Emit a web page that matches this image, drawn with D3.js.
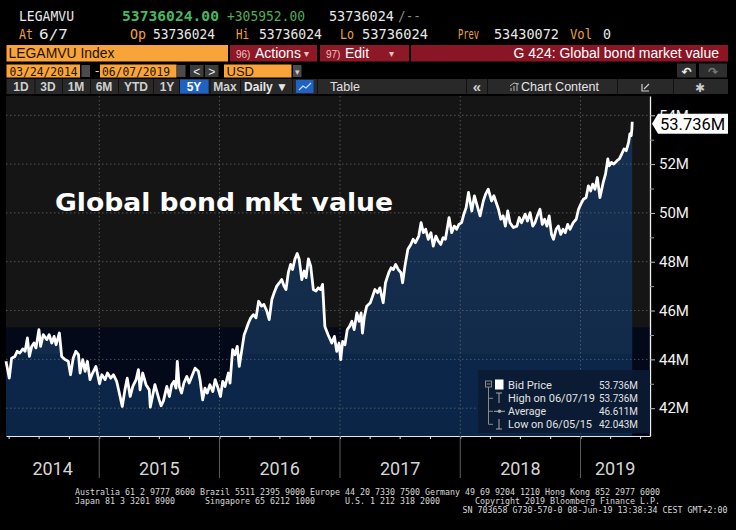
<!DOCTYPE html>
<html>
<head>
<meta charset="utf-8">
<script src="https://cdn.jsdelivr.net/npm/d3@7"></script>
<style>
body{margin:0;background:#000;overflow:hidden}
svg{display:block}
</style>
</head>
<body>
<div id="chart"></div>
<script>

// ======================= //
// DATA
// ======================= //

var quoteTop = ["LEGAMVU", "53736024.00", "+305952.00", "53736024", "/--"]
var quoteBottom = ["At", "6/7", "Op", "53736024", "Hi", "53736024", "Lo", "53736024", "Prev", "53430072", "Vol", "0"]
var securityName = "LEGAMVU Index"
var chartTitleBar = "G 424: Global bond market value"
var dateFrom = "03/24/2014", dateTo = "06/07/2019", currency = "USD"
var periodButtons = ["1D", "3D", "1M", "6M", "YTD", "1Y", "5Y", "Max"]
var activePeriod = "5Y"
var chartTitle = "Global bond mkt value"

var xDomain = ["2014-03-24", "2019-07-31"]
var yDomain = [40.86, 54.79]
var yMajor = [42, 44, 46, 48, 50, 52, 54]
var yMinor = [43, 45, 47, 49, 51, 53]
var yearLabels = ["2014", "2015", "2016", "2017", "2018", "2019"]

// bid price, millions USD
var bidPrice = [
  ["2014-03-24",43.92],["2014-04-03",43.23],["2014-04-10",44.05],["2014-04-20",44.12],["2014-04-27",44.33],["2014-05-05",44.26],
  ["2014-05-14",44.43],["2014-05-21",44.33],["2014-05-28",44.88],["2014-06-03",44.12],["2014-06-10",44.53],["2014-06-17",44.67],
  ["2014-06-23",44.47],["2014-07-02",45.22],["2014-07-07",44.53],["2014-07-15",45.01],["2014-07-26",44.81],["2014-08-02",45.01],
  ["2014-08-10",44.67],["2014-08-17",44.94],["2014-08-23",44.60],["2014-09-02",45.08],["2014-09-09",44.12],["2014-09-19",43.99],
  ["2014-09-29",43.92],["2014-10-06",43.37],["2014-10-14",44.05],["2014-10-22",44.33],["2014-10-30",44.19],["2014-11-04",43.44],
  ["2014-11-12",43.99],["2014-11-19",43.51],["2014-11-26",43.92],["2014-12-04",43.17],["2014-12-12",43.44],["2014-12-22",43.71],
  ["2015-01-02",43.00],["2015-01-09",43.37],["2015-01-19",43.17],["2015-01-26",43.44],["2015-02-05",43.23],["2015-02-13",43.37],
  ["2015-02-23",43.10],["2015-03-03",42.62],["2015-03-12",42.07],["2015-03-20",42.75],["2015-03-27",43.23],["2015-04-05",42.48],
  ["2015-04-13",42.89],["2015-04-23",43.17],["2015-04-30",43.58],["2015-05-05",42.75],["2015-05-13",43.44],["2015-05-23",42.96],
  ["2015-06-02",42.75],["2015-06-05",42.043],["2015-06-19",42.96],["2015-07-02",42.34],["2015-07-08",42.10],["2015-07-15",42.30],
  ["2015-07-25",42.89],["2015-08-02",42.48],["2015-08-09",42.96],["2015-08-16",43.10],["2015-08-22",42.82],["2015-08-26",43.92],
  ["2015-09-01",42.89],["2015-09-08",42.62],["2015-09-15",43.03],["2015-09-24",43.30],["2015-10-01",43.03],["2015-10-09",43.30],
  ["2015-10-19",43.64],["2015-10-29",43.51],["2015-11-03",43.17],["2015-11-11",42.34],["2015-11-18",42.82],["2015-11-25",42.62],
  ["2015-12-03",42.96],["2015-12-12",42.68],["2015-12-19",43.17],["2015-12-26",42.89],["2016-01-04",42.48],["2016-01-11",43.10],
  ["2016-01-18",42.89],["2016-01-28",43.44],["2016-02-02",43.03],["2016-02-10",44.40],["2016-02-17",44.19],["2016-02-24",44.53],
  ["2016-03-01",43.71],["2016-03-09",44.40],["2016-03-16",45.01],["2016-03-22",45.22],["2016-03-29",45.49],["2016-04-05",45.70],
  ["2016-04-13",45.83],["2016-04-21",45.70],["2016-04-29",46.38],["2016-05-08",46.18],["2016-05-15",46.25],["2016-05-24",45.97],
  ["2016-05-31",45.63],["2016-06-08",46.45],["2016-06-15",46.73],["2016-06-23",47.00],["2016-07-01",47.14],["2016-07-08",47.27],
  ["2016-07-15",47.00],["2016-07-21",46.86],["2016-07-28",47.55],["2016-08-04",47.89],["2016-08-10",47.68],["2016-08-17",48.10],
  ["2016-08-24",48.34],["2016-08-30",48.10],["2016-09-07",47.27],["2016-09-14",47.62],["2016-09-20",47.35],["2016-09-27",48.12],
  ["2016-10-04",47.82],["2016-10-12",46.86],["2016-10-20",46.80],["2016-10-27",46.93],["2016-11-03",46.86],["2016-11-09",47.07],
  ["2016-11-16",45.35],["2016-11-26",45.00],["2016-12-07",44.67],["2016-12-15",44.94],["2016-12-22",44.33],["2016-12-29",44.67],
  ["2017-01-03",43.99],["2017-01-09",44.74],["2017-01-16",44.60],["2017-01-23",45.22],["2017-01-30",45.35],["2017-02-06",45.56],
  ["2017-02-13",45.22],["2017-02-21",45.90],["2017-02-28",45.56],["2017-03-06",45.90],["2017-03-10",45.08],["2017-03-16",45.76],
  ["2017-03-23",46.18],["2017-04-03",46.32],["2017-04-10",46.59],["2017-04-17",46.86],["2017-04-25",46.73],["2017-05-02",46.93],
  ["2017-05-12",46.32],["2017-05-19",47.14],["2017-05-29",47.55],["2017-06-05",47.75],["2017-06-12",47.68],["2017-06-19",47.89],
  ["2017-06-27",47.68],["2017-07-05",47.55],["2017-07-10",47.14],["2017-07-17",47.82],["2017-07-26",48.51],["2017-08-04",48.71],
  ["2017-08-11",48.92],["2017-08-18",48.78],["2017-08-28",49.05],["2017-09-04",49.60],["2017-09-11",49.19],["2017-09-18",49.33],
  ["2017-09-26",48.92],["2017-10-04",49.19],["2017-10-11",48.64],["2017-10-19",49.05],["2017-10-26",48.85],["2017-11-03",48.71],
  ["2017-11-10",48.99],["2017-11-17",48.92],["2017-11-28",49.81],["2017-12-06",49.19],["2017-12-14",49.46],["2017-12-21",49.33],
  ["2017-12-28",49.53],["2018-01-05",49.60],["2018-01-12",49.95],["2018-01-19",50.22],["2018-01-26",50.84],["2018-02-05",50.08],
  ["2018-02-13",50.70],["2018-02-20",50.36],["2018-03-02",49.88],["2018-03-12",50.49],["2018-03-19",50.77],["2018-03-27",50.97],
  ["2018-04-06",50.49],["2018-04-13",50.70],["2018-04-20",50.43],["2018-04-27",50.15],["2018-05-04",49.74],["2018-05-11",49.88],
  ["2018-05-18",49.46],["2018-05-25",50.08],["2018-06-01",49.60],["2018-06-11",49.40],["2018-06-22",49.46],["2018-06-29",49.81],
  ["2018-07-06",49.60],["2018-07-17",49.95],["2018-07-24",49.67],["2018-08-01",50.01],["2018-08-09",49.46],["2018-08-16",49.60],
  ["2018-08-23",49.88],["2018-08-31",50.15],["2018-09-07",49.53],["2018-09-14",49.74],["2018-09-21",49.46],["2018-09-28",49.88],
  ["2018-10-05",49.12],["2018-10-11",48.92],["2018-10-19",49.33],["2018-10-26",49.46],["2018-11-02",49.12],["2018-11-09",49.33],
  ["2018-11-16",49.19],["2018-11-23",49.53],["2018-11-30",49.33],["2018-12-10",49.60],["2018-12-19",49.74],["2018-12-26",50.15],
  ["2019-01-02",50.36],["2019-01-10",50.56],["2019-01-18",50.63],["2019-01-25",51.11],["2019-02-01",50.90],["2019-02-07",51.18],
  ["2019-02-14",50.97],["2019-02-21",51.45],["2019-03-01",50.63],["2019-03-11",51.25],["2019-03-18",51.59],["2019-03-25",52.21],
  ["2019-03-29",51.93],["2019-04-05",52.07],["2019-04-12",52.00],["2019-04-22",52.14],["2019-04-29",52.21],["2019-05-06",52.41],
  ["2019-05-13",52.62],["2019-05-20",52.55],["2019-05-27",52.89],["2019-05-31",53.24],["2019-06-04",53.17],["2019-06-06",53.43],
  ["2019-06-07",53.736]
]
var lastLabel = "53.736M"

var legendLabels = ["Bid Price", "High on 06/07/19", "Average", "Low on 06/05/15"]
var legendValues = ["53.736M", "53.736M", "46.611M", "42.043M"]

var footerLine1 = "Australia 61 2 9777 8600 Brazil 5511 2395 9000 Europe 44 20 7330 7500 Germany 49 69 9204 1210 Hong Kong 852 2977 6000"
var footerLine2 = ["Japan 81 3 3201 8900", "Singapore 65 6212 1000", "U.S. 1 212 318 2000", "Copyright 2019 Bloomberg Finance L.P."]
var footerLine3 = "SN 703658 G730-570-0 08-Jun-19 13:38:34 CEST GMT+2:00"


// ======================= //
// SVG AREA
// ======================= //

var width = 736, height = 530
var svg = d3.select("#chart")
  .append("svg")
    .attr("width", width)
    .attr("height", height)
svg.append("rect").attr("width", width).attr("height", height).attr("fill", "#000")

var mono = "'DejaVu Sans Mono', monospace"
var sans = "'Liberation Sans', Arial, sans-serif"
var robo = "Roboto, 'Liberation Sans', sans-serif"

function addText(g, s, x, y, o) {
  o = o || {}
  var t = g.append("text")
    .attr("x", x)
    .attr("y", y)
    .text(s)
    .style("font-family", o.font || sans)
    .style("font-size", (o.size || 12) + "px")
    .style("fill", o.fill || "#ddd")
  if (o.weight) t.style("font-weight", o.weight)
  if (o.anchor) t.style("text-anchor", o.anchor)
  if (o.len) t.attr("textLength", o.len).attr("lengthAdjust", "spacingAndGlyphs")
  return t
}
function addRect(g, x0, y0, x1, y1, fill) {
  return g.append("rect").attr("x", x0).attr("y", y0)
    .attr("width", x1 - x0).attr("height", y1 - y0).attr("fill", fill)
}


// ======================= //
// HEADER
// ======================= //

var head = svg.append("g")
var orange = "#efa23c", white = "#e8e8e8"

// quote line 1
var topPos = [[19, 74, white, null], [122, 219, "#45b860", "bold"], [227, 305, "#4fae5a", null], [329, 394, white, null], [398, 421, "#8a8a8a", null]]
quoteTop.forEach(function(s, i) {
  var p = topPos[i]
  addText(head, s, p[0], 20.5, {font: mono, size: 14.5, fill: p[2], weight: p[3], len: p[1] - p[0]})
})

// quote line 2
var botPos = [[19, 33, orange], [39, 68, white], [130, 146, orange], [153, 215, white], [236, 249, orange], [259, 322, white],
              [340, 354, orange], [362, 428, white], [458, 479, orange], [494, 559, white], [570, 592, orange], [603, 611, white]]
quoteBottom.forEach(function(s, i) {
  var p = botPos[i]
  addText(head, s, p[0], 39, {font: mono, size: 14.5, fill: p[2], len: p[1] - p[0]})
})

// security bar + actions bar
addRect(head, 6.5, 45, 228, 61.5, "#f9a43a")
addText(head, securityName, 8.5, 58, {size: 14.5, fill: "#1c1208", len: 106})
addRect(head, 230, 45, 317, 61.5, "#8d1826")
addRect(head, 320, 45, 409, 61.5, "#8d1826")
addRect(head, 411, 45, 728, 61.5, "#8a1525")
addText(head, "96)", 236, 57.5, {size: 10, fill: "#f0c0c0"})
addText(head, "Actions", 255, 58, {size: 14, fill: "#fff"})
addText(head, "▾", 304, 57, {size: 10, fill: "#f0c0c0"})
addText(head, "97)", 326, 57.5, {size: 10, fill: "#f0c0c0"})
addText(head, "Edit", 345, 58, {size: 14, fill: "#fff"})
addText(head, "▾", 389, 57, {size: 10, fill: "#f0c0c0"})
addText(head, chartTitleBar, 719, 58, {size: 14, fill: "#fff", anchor: "end"})

// date range row
addRect(head, 6.5, 64.5, 80, 77.5, "#f9a43a")
addRect(head, 81.5, 65, 90, 77, "#4b4b4b")
addText(head, dateFrom, 9.5, 76, {font: mono, size: 12, fill: "#221505", len: 68})
addText(head, "-", 93.5, 75, {font: mono, size: 12, fill: "#ddd"})
addRect(head, 100, 64.5, 176.5, 77.5, "#f9a43a")
addRect(head, 177, 65, 185.5, 77, "#4b4b4b")
addText(head, dateTo, 102, 76, {font: mono, size: 12, fill: "#221505", len: 68})
addRect(head, 190, 65, 203.5, 77, "#3c3c3c")
addRect(head, 205, 65, 218.5, 77, "#3c3c3c")
addText(head, "<", 196.7, 75.5, {size: 12, fill: "#eee", anchor: "middle"})
addText(head, ">", 211.7, 75.5, {size: 12, fill: "#eee", anchor: "middle"})
addRect(head, 224, 64.5, 291.5, 77.5, "#f9a43a")
addText(head, currency, 226.5, 76, {size: 13, fill: "#221505"})
addRect(head, 293, 65, 301.5, 77, "#4b4b4b")
addText(head, "▾", 297.3, 74.5, {size: 9, fill: "#ccc", anchor: "middle"})
addRect(head, 677, 63.5, 696, 77.5, "#2e2e2e")
addRect(head, 699, 63.5, 727, 77.5, "#2e2e2e")
addText(head, "↶", 686.5, 75.5, {font: "DejaVu Sans", size: 12, fill: "#eee", anchor: "middle", weight: "bold"})
addText(head, "↷", 713, 75.5, {font: "DejaVu Sans", size: 12, fill: "#777", anchor: "middle", weight: "bold"})

// toolbar
addRect(head, 6.5, 79, 728, 94, "#292929")
var periodX = [21, 48, 76, 104, 136, 167, 194, 225]
var sepX = [34.5, 62, 90, 118, 153, 179, 209.5, 240, 292, 317, 466, 487, 617, 673]
sepX.forEach(function(sx) { addRect(head, sx, 79, sx + 1, 94, "#111") })
addRect(head, 180, 79.5, 208.5, 93.5, "#1f62c6")
addRect(head, 296, 80, 313.5, 93, "#1f62c6")
head.append("path").attr("d", "M299,90 L303,86 L306,88 L311,83").attr("fill", "none").attr("stroke", "#cfe0ff").attr("stroke-width", 1.2)
periodButtons.forEach(function(s, i) {
  addText(head, s, periodX[i], 91, {size: 12, fill: s == activePeriod ? "#fff" : "#cfcfcf", anchor: "middle", weight: "bold"})
})
addText(head, "Daily ▼", 266, 91, {size: 12, fill: "#e6e6e6", anchor: "middle", weight: "bold"})
addText(head, "Table", 345, 91, {size: 12.5, fill: "#e0e0e0", anchor: "middle"})
addText(head, "«", 477, 91.5, {size: 15, fill: "#ccc", anchor: "middle", weight: "bold"})
head.append("path").attr("d", "M511,91 L511,88 M514,91 L514,86 M517,91 L517,84 M510,86 L514,83 L519,84").attr("fill", "none").attr("stroke", "#bbb").attr("stroke-width", 1)
addText(head, "Chart Content", 560, 91, {size: 12.5, fill: "#e6e6e6", anchor: "middle"})
head.append("path").attr("d", "M642,84 L642,91 L649,91 M644,89 L649,84").attr("fill", "none").attr("stroke", "#ccc").attr("stroke-width", 1.2)
addText(head, "✱", 700, 91.5, {font: "DejaVu Sans", size: 12, fill: "#ccc", anchor: "middle"})


// ======================= //
// SCALES
// ======================= //

var plotTop = 96, plotBottom = 436, plotLeft = 6, plotRight = 650
var parseDate = d3.timeParse("%Y-%m-%d")
var series = bidPrice.map(function(d) { return {date: parseDate(d[0]), value: d[1]} })

var x = d3.scaleTime()
  .domain(xDomain.map(parseDate))
  .range([plotLeft, plotRight])
var y = d3.scaleLinear()
  .domain(yDomain)
  .range([plotBottom, plotTop])

var yearStarts = d3.timeYear.range(x.domain()[0], x.domain()[1])


// ======================= //
// PLOT BACKGROUND
// ======================= //

var plot = svg.append("g")
var bandY = y(45.3)
addRect(plot, plotLeft, plotTop, plotRight, bandY, "#151515")
addRect(plot, plotLeft, bandY, plotRight, plotBottom, "#030919")

var defs = svg.append("defs")
var grad = defs.append("linearGradient")
  .attr("id", "areaFill")
  .attr("gradientUnits", "userSpaceOnUse")
  .attr("x1", 0).attr("x2", 0).attr("y1", plotTop).attr("y2", plotBottom)
var split = (y(44.2) - plotTop) / (plotBottom - plotTop)
grad.append("stop").attr("offset", 0).attr("stop-color", "#162f50")
grad.append("stop").attr("offset", split).attr("stop-color", "#132b4b")
grad.append("stop").attr("offset", split).attr("stop-color", "#0b2649")
grad.append("stop").attr("offset", 1).attr("stop-color", "#0a2546")


// ======================= //
// SHAPES
// ======================= //

var area = d3.area()
  .x(function(d) { return x(d.date) })
  .y0(plotBottom)
  .y1(function(d) { return y(d.value) })
var line = d3.line()
  .x(function(d) { return x(d.date) })
  .y(function(d) { return y(d.value) })

plot.append("path")
  .datum(series)
  .attr("d", area)
  .attr("fill", "url(#areaFill)")

// dotted grid
plot.selectAll(".hgrid")
  .data(yMajor)
  .enter()
  .append("line")
    .attr("x1", plotLeft).attr("x2", plotRight)
    .attr("y1", function(d) { return y(d) }).attr("y2", function(d) { return y(d) })
    .attr("stroke", "#6a6a6a").attr("stroke-width", 1)
    .attr("stroke-dasharray", "1.5,2.5").attr("opacity", 0.75)
plot.selectAll(".vgrid")
  .data(yearStarts)
  .enter()
  .append("line")
    .attr("x1", function(d) { return x(d) }).attr("x2", function(d) { return x(d) })
    .attr("y1", plotTop).attr("y2", plotBottom)
    .attr("stroke", "#6a6a6a").attr("stroke-width", 1)
    .attr("stroke-dasharray", "1.5,2.5").attr("opacity", 0.75)

plot.append("path")
  .datum(series)
  .attr("d", line)
  .attr("fill", "none")
  .attr("stroke", "#fff")
  .attr("stroke-width", 2.8)
  .attr("stroke-linejoin", "round")


// ======================= //
// AXES
// ======================= //

var xAxis = svg.append("g")
  .attr("transform", "translate(0," + plotBottom + ")")
  .call(d3.axisBottom(x).ticks(d3.timeMonth.every(3)).tickSize(3).tickSizeOuter(0).tickFormat(""))
xAxis.selectAll("path, line").attr("stroke", "#e8e8e8")

svg.selectAll(".yearSep")
  .data(yearStarts)
  .enter()
  .append("line")
    .attr("x1", function(d) { return x(d) }).attr("x2", function(d) { return x(d) })
    .attr("y1", plotBottom).attr("y2", 478)
    .attr("stroke", "#5e5e5e")

var yearBounds = [x.domain()[0]].concat(yearStarts, [x.domain()[1]])
svg.selectAll(".yearLabel")
  .data(yearLabels)
  .enter()
  .append("text")
    .text(function(d) { return d })
    .attr("x", function(d, i) { return (x(yearBounds[i]) + x(yearBounds[i + 1])) / 2 })
    .attr("y", 474.5)
    .style("text-anchor", "middle")
    .style("font-family", robo)
    .style("font-size", "18px")
    .style("fill", "#d6d6d6")

var yAxis = svg.append("g")
  .attr("transform", "translate(" + plotRight + ",0)")
  .call(d3.axisRight(y).tickValues(yMajor).tickSize(5).tickPadding(4).tickSizeOuter(0)
    .tickFormat(function(d) { return d + "M" }))
yAxis.select(".domain").attr("stroke", "#f0f0f0").attr("stroke-width", 1.3)
yAxis.selectAll("line").attr("stroke", "#bbb")
yAxis.selectAll("text")
  .style("font-family", robo)
  .style("font-size", "15px")
  .style("fill", "#f2f2f2")
var yMinorAxis = svg.append("g")
  .attr("transform", "translate(" + plotRight + ",0)")
  .call(d3.axisRight(y).tickValues(yMinor).tickSize(4).tickSizeOuter(0).tickFormat(""))
yMinorAxis.select(".domain").remove()
yMinorAxis.selectAll("line").attr("stroke", "#999")

// last price tag (sits over the top tick label, as on the terminal)
var last = series[series.length - 1]
var py = y(last.value) + 2
svg.append("path")
  .attr("d", "M652," + py + " L658," + (py - 10) + " L728," + (py - 10) + " L728," + (py + 10) + " L658," + (py + 10) + " Z")
  .attr("fill", "#fff")
addText(svg, lastLabel, 660, py + 6, {font: robo, size: 16.5, fill: "#000"})


// ======================= //
// TITLE
// ======================= //

addText(svg, chartTitle, 55, 211, {font: "'DejaVu Sans', Verdana, sans-serif", size: 25, weight: "bold", fill: "#fff", len: 338})


// ======================= //
// LEGEND
// ======================= //

var leg = svg.append("g")
addRect(leg, 478, 370, 650, 433, "#0b1a33").attr("opacity", 0.95)
var rowY = [385, 398.3, 411.3, 424.3]
var labelW = [44, 87, 38, 84]
legendLabels.forEach(function(s, i) {
  addText(leg, s, 508, rowY[i] + 4, {font: robo, size: 11, fill: "#e2e2e2", len: labelW[i]})
  addText(leg, legendValues[i], 599, rowY[i] + 4, {font: robo, size: 11, fill: "#e2e2e2", len: 39})
})
var tree = "#8a8a8a"
leg.append("rect").attr("x", 485.5).attr("y", 381).attr("width", 6).attr("height", 6).attr("fill", "none").attr("stroke", tree)
leg.append("path").attr("d", "M486.5,384 L490.5,384").attr("stroke", tree)
leg.append("path").attr("d", "M488.5,387 L488.5,424.3 M488.5,398.3 L493,398.3 M488.5,411.3 L493,411.3 M488.5,424.3 L493,424.3")
  .attr("stroke", tree).attr("fill", "none")
addRect(leg, 495, 379.5, 503.5, 389.5, "#fff")
leg.append("path").attr("d", "M496,393 L502,393 M499,393 L499,403").attr("stroke", "#aaa").attr("fill", "none")
leg.append("path").attr("d", "M494,411.3 L505,411.3").attr("stroke", "#aaa").attr("fill", "none")
leg.append("circle").attr("cx", 499.5).attr("cy", 411.3).attr("r", 1.8).attr("fill", "#aaa")
leg.append("path").attr("d", "M496,429 L502,429 M499,419 L499,429").attr("stroke", "#aaa").attr("fill", "none")


// ======================= //
// FOOTER
// ======================= //

var foot = svg.append("g")
var charW = 5
addText(foot, footerLine1, 75, 494.5, {font: mono, size: 8.5, fill: "#d8d8d8", len: footerLine1.length * charW})
var foot2X = [75, 205, 345, 475]
footerLine2.forEach(function(s, i) {
  addText(foot, s, foot2X[i], 503.5, {font: mono, size: 8.5, fill: "#d8d8d8", len: s.length * charW})
})
addText(foot, footerLine3, 727.5 - footerLine3.length * charW, 512.5, {font: mono, size: 8.5, fill: "#d8d8d8", len: footerLine3.length * charW})

</script>
</body>
</html>
